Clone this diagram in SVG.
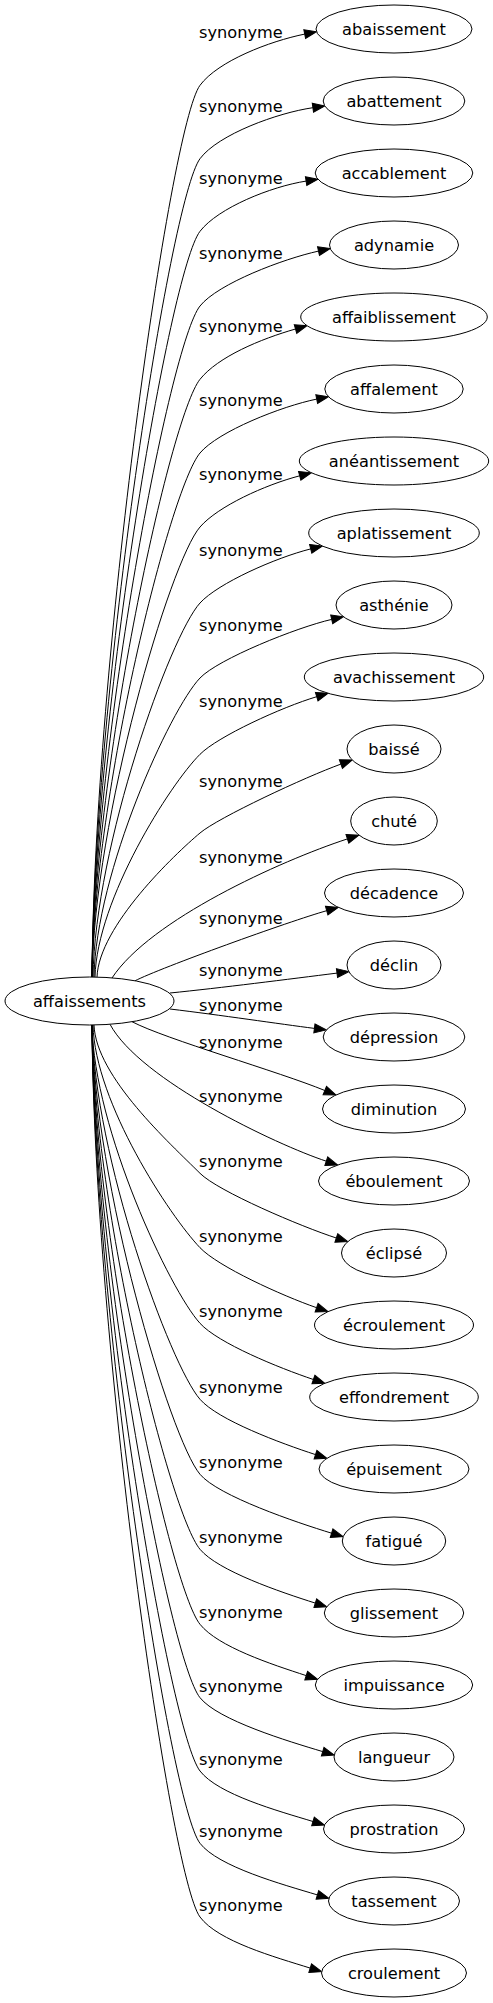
<svg xmlns="http://www.w3.org/2000/svg" width="493" height="2003" viewBox="0 0 493 2003">
<style>
.n ellipse{fill:#fff;stroke:#000;stroke-width:1}
.n text{font-family:"DejaVu Sans",sans-serif;font-size:16.2px;text-anchor:middle;fill:#000}
.e path{fill:none;stroke:#000;stroke-width:1;marker-end:url(#ah)}
.e text{font-family:"DejaVu Sans",sans-serif;font-size:16.2px;fill:#000}
</style>
<defs>
<marker id="ah" markerUnits="userSpaceOnUse" markerWidth="14" markerHeight="12" refX="1" refY="6" orient="auto" overflow="visible">
<path d="M1,1.5 L13,6 L1,10.5 z" fill="#000" stroke="#000" stroke-width="1"/>
</marker>
</defs>
<rect width="493" height="2003" fill="#fff"/>
<g id="edges" class="e">
<g id="e1"><path d="M92,977 C94,664.9 170,125.8 200,85.3 C218,61 269.7,41.2 304.7,34.1"/><text x="199" y="38.3">synonyme</text></g>
<g id="e2"><path d="M92,977 C94,690.6 170,199.2 200,158.7 C218,134.4 277.9,112.7 312.9,107.7"/><text x="199" y="111.7">synonyme</text></g>
<g id="e3"><path d="M92,977 C94,716 170,270.3 200,231.3 C218,207.9 271.1,186.5 306.1,181.1"/><text x="199" y="184.3">synonyme</text></g>
<g id="e4"><path d="M92,977 C94,742.1 170,343.5 200,306 C218,283.5 283.5,258.8 318.5,251.1"/><text x="199" y="259">synonyme</text></g>
<g id="e5"><path d="M92,977 C94,767.8 170,416.8 200,379.3 C218,356.8 260.5,339 295.5,329"/><text x="199" y="332.3">synonyme</text></g>
<g id="e6"><path d="M92,977 C94,793.6 170,489 200,453 C218,431.4 281.7,406.2 316.7,399.1"/><text x="199" y="406">synonyme</text></g>
<g id="e7"><path d="M92,977 C94,819.5 170,561.5 200,527 C218,506.3 264.7,485 299.7,475.8"/><text x="199" y="480">synonyme</text></g>
<g id="e8"><path d="M93,977 C95,846.1 170,636 200,603 C218,583.2 275.7,557.7 310.7,548.9"/><text x="199" y="556">synonyme</text></g>
<g id="e9"><path d="M94,977 C96,872.3 170,709.5 200,678 C218,659.1 296.7,627.4 331.7,619.4"/><text x="199" y="631">synonyme</text></g>
<g id="e10"><path d="M95,977 C97,899.1 170,784.3 200,754.3 C218,736.3 281.7,707.2 316.7,696.7"/><text x="199" y="707.3">synonyme</text></g>
<g id="e11"><path d="M97,977 C99,926 175,854 200,833 C218,817.7 305.9,776.7 340.9,764.1"/><text x="199" y="786.7">synonyme</text></g>
<g id="e12"><path d="M112,978 C150,920 280,861 347.4,838.9"/><text x="199" y="862.7">synonyme</text></g>
<g id="e13"><path d="M135,980.8 C160,968 290,921 326.7,910.7"/><text x="199" y="924">synonyme</text></g>
<g id="e14"><path d="M170,993 C220,988 290,979 337,973.1"/><text x="199" y="975.7">synonyme</text></g>
<g id="e15"><path d="M170,1009 C220,1015 280,1024 314.4,1028.4"/><text x="199" y="1010.7">synonyme</text></g>
<g id="e16"><path d="M132,1021.7 C165,1039 280,1072 324.8,1090.5"/><text x="199" y="1047.7">synonyme</text></g>
<g id="e17"><path d="M110,1024.3 C140,1080 276.3,1144.7 326.3,1161.2"/><text x="199" y="1101.7">synonyme</text></g>
<g id="e18"><path d="M94,1025 C96,1076.9 170,1143.3 200,1173.3 C218,1191.3 301.3,1226.7 336.3,1238"/><text x="199" y="1167.3">synonyme</text></g>
<g id="e19"><path d="M93,1025 C95,1102.9 170,1216.2 200,1247.7 C218,1266.6 281.6,1295.5 316.6,1307.7"/><text x="199" y="1241.7">synonyme</text></g>
<g id="e20"><path d="M92,1025 C94,1129.4 170,1290.3 200,1323.3 C218,1343.1 278.4,1367.7 313.4,1379.5"/><text x="199" y="1317.3">synonyme</text></g>
<g id="e21"><path d="M92,1025 C94,1156 170,1364.8 200,1399.3 C218,1420 280.5,1443.2 315.5,1454.6"/><text x="199" y="1393.3">synonyme</text></g>
<g id="e22"><path d="M92,1025 C94,1182.3 170,1438.3 200,1474.3 C218,1495.9 296.6,1522.5 331.6,1533.2"/><text x="199" y="1468.3">synonyme</text></g>
<g id="e23"><path d="M92,1025 C94,1208.5 170,1513.3 200,1549.3 C218,1570.9 280.3,1592 315.3,1603.1"/><text x="199" y="1543.3">synonyme</text></g>
<g id="e24"><path d="M92,1025 C94,1234.8 170,1586.8 200,1624.3 C218,1646.8 271.2,1664.2 306.2,1675.6"/><text x="199" y="1618.3">synonyme</text></g>
<g id="e25"><path d="M92,1025 C94,1260.4 170,1660.2 200,1697.7 C218,1720.2 287.7,1741.1 322.7,1751.6"/><text x="199" y="1691.7">synonyme</text></g>
<g id="e26"><path d="M92,1025 C94,1286.1 170,1732 200,1771 C218,1794.4 278,1810.9 313,1821.5"/><text x="199" y="1765">synonyme</text></g>
<g id="e27"><path d="M92,1025 C94,1311.4 170,1804.3 200,1843.3 C218,1866.7 282.4,1884.4 317.4,1894.9"/><text x="199" y="1837.3">synonyme</text></g>
<g id="e28"><path d="M92,1025 C94,1337.2 170,1876.5 200,1917 C218,1941.3 275.2,1957.1 310.2,1968.1"/><text x="199" y="1911">synonyme</text></g>
</g>
<g id="node-affaissements" class="n"><ellipse cx="89.5" cy="1001" rx="84.5" ry="24"/><text x="89.5" y="1006.5">affaissements</text></g>
<g id="node-abaissement" class="n"><ellipse cx="394" cy="29" rx="78" ry="24"/><text x="394" y="34.5">abaissement</text></g>
<g id="node-abattement" class="n"><ellipse cx="394" cy="101" rx="70.8" ry="24"/><text x="394" y="106.5">abattement</text></g>
<g id="node-accablement" class="n"><ellipse cx="394" cy="173" rx="78.8" ry="24"/><text x="394" y="178.5">accablement</text></g>
<g id="node-adynamie" class="n"><ellipse cx="394" cy="245" rx="64.5" ry="24"/><text x="394" y="250.5">adynamie</text></g>
<g id="node-affaiblissement" class="n"><ellipse cx="394" cy="317" rx="93.3" ry="24"/><text x="394" y="322.5">affaiblissement</text></g>
<g id="node-affalement" class="n"><ellipse cx="394" cy="389" rx="69.2" ry="24"/><text x="394" y="394.5">affalement</text></g>
<g id="node-aneantissement" class="n"><ellipse cx="394" cy="461" rx="94.7" ry="24"/><text x="394" y="466.5">anéantissement</text></g>
<g id="node-aplatissement" class="n"><ellipse cx="394" cy="533" rx="85.3" ry="24"/><text x="394" y="538.5">aplatissement</text></g>
<g id="node-asthenie" class="n"><ellipse cx="394" cy="605" rx="58" ry="24"/><text x="394" y="610.5">asthénie</text></g>
<g id="node-avachissement" class="n"><ellipse cx="394" cy="677" rx="89.7" ry="24"/><text x="394" y="682.5">avachissement</text></g>
<g id="node-baisse" class="n"><ellipse cx="394" cy="749" rx="47" ry="24"/><text x="394" y="754.5">baissé</text></g>
<g id="node-chute" class="n"><ellipse cx="394" cy="821" rx="43.3" ry="24"/><text x="394" y="826.5">chuté</text></g>
<g id="node-decadence" class="n"><ellipse cx="394" cy="893" rx="69.5" ry="24"/><text x="394" y="898.5">décadence</text></g>
<g id="node-declin" class="n"><ellipse cx="394" cy="965" rx="47" ry="24"/><text x="394" y="970.5">déclin</text></g>
<g id="node-depression" class="n"><ellipse cx="394" cy="1037" rx="70.8" ry="24"/><text x="394" y="1042.5">dépression</text></g>
<g id="node-diminution" class="n"><ellipse cx="394" cy="1109" rx="71.5" ry="24"/><text x="394" y="1114.5">diminution</text></g>
<g id="node-eboulement" class="n"><ellipse cx="394" cy="1181" rx="75.5" ry="24"/><text x="394" y="1186.5">éboulement</text></g>
<g id="node-eclipse" class="n"><ellipse cx="394" cy="1253" rx="52.5" ry="24"/><text x="394" y="1258.5">éclipsé</text></g>
<g id="node-ecroulement" class="n"><ellipse cx="394" cy="1325" rx="79.5" ry="24"/><text x="394" y="1330.5">écroulement</text></g>
<g id="node-effondrement" class="n"><ellipse cx="394" cy="1397" rx="84.3" ry="24"/><text x="394" y="1402.5">effondrement</text></g>
<g id="node-epuisement" class="n"><ellipse cx="394" cy="1469" rx="75" ry="24"/><text x="394" y="1474.5">épuisement</text></g>
<g id="node-fatigue" class="n"><ellipse cx="394" cy="1541" rx="51.7" ry="24"/><text x="394" y="1546.5">fatigué</text></g>
<g id="node-glissement" class="n"><ellipse cx="394" cy="1613" rx="69.7" ry="24"/><text x="394" y="1618.5">glissement</text></g>
<g id="node-impuissance" class="n"><ellipse cx="394" cy="1685" rx="78.7" ry="24"/><text x="394" y="1690.5">impuissance</text></g>
<g id="node-langueur" class="n"><ellipse cx="394" cy="1757" rx="60" ry="24"/><text x="394" y="1762.5">langueur</text></g>
<g id="node-prostration" class="n"><ellipse cx="394" cy="1829" rx="70.5" ry="24"/><text x="394" y="1834.5">prostration</text></g>
<g id="node-tassement" class="n"><ellipse cx="394" cy="1901" rx="65.5" ry="24"/><text x="394" y="1906.5">tassement</text></g>
<g id="node-croulement" class="n"><ellipse cx="394" cy="1973" rx="72.5" ry="24"/><text x="394" y="1978.5">croulement</text></g>
</svg>
